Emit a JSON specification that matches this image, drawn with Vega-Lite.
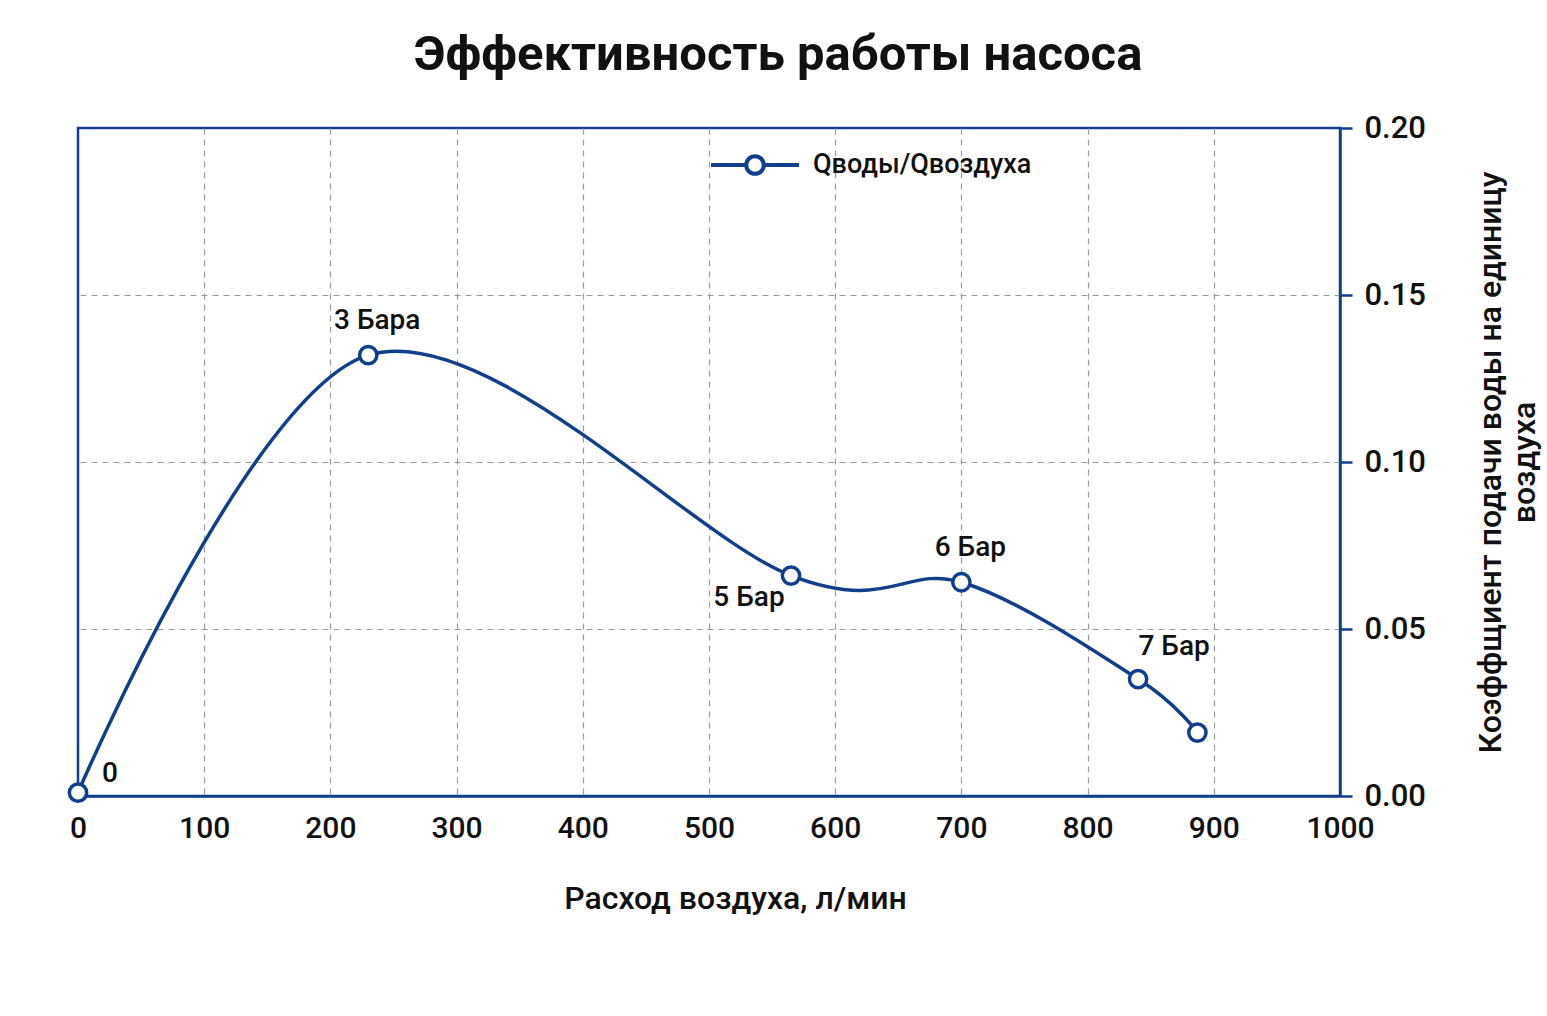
{
  "$schema": "https://vega.github.io/schema/vega-lite/v6.json",
  "width": 1262,
  "height": 668,
  "autosize": {"type": "none"},
  "padding": {"left": 78, "top": 128, "right": 207, "bottom": 220},
  "background": "white",
  "title": {
    "text": "Эффективность работы насоса",
    "font": "Roboto",
    "fontSize": 49,
    "fontWeight": "bold",
    "color": "#111111",
    "anchor": "middle",
    "dx": 69,
    "offset": 32
  },
  "data": {
    "values": [
      {"air": 0, "ratio": 0.001, "label": "0", "series": "Qводы/Qвоздуха"},
      {"air": 230, "ratio": 0.132, "label": "3 Бара", "series": "Qводы/Qвоздуха"},
      {"air": 565, "ratio": 0.066, "label": "5 Бар", "series": "Qводы/Qвоздуха"},
      {"air": 700, "ratio": 0.064, "label": "6 Бар", "series": "Qводы/Qвоздуха"},
      {"air": 840, "ratio": 0.035, "label": "7 Бар", "series": "Qводы/Qвоздуха"},
      {"air": 887, "ratio": 0.019, "label": "", "series": "Qводы/Qвоздуха"}
    ]
  },
  "encoding": {
    "x": {
      "field": "air", "type": "quantitative",
      "scale": {"domain": [0, 1000], "nice": false, "zero": true},
      "axis": {
        "title": "Расход воздуха, л/мин",
        "titleX": 657,
        "values": [0, 100, 200, 300, 400, 500, 600, 700, 800, 900, 1000],
        "format": "d",
        "grid": true, "gridDash": [6, 5], "gridColor": "#9a9a9a", "gridWidth": 1.2,
        "gridOpacity": {"condition": {"test": "datum.value === 0 || datum.value === 1000", "value": 0}, "value": 1},
        "domainColor": "#123f8c", "domainWidth": 2.5,
        "ticks": false,
        "labelFlush": false,
        "labelFont": "Roboto", "labelFontSize": 30, "labelFontWeight": 500, "labelColor": "#111111",
        "labelPadding": 17,
        "titleFont": "Roboto", "titleFontSize": 32, "titleFontWeight": 500, "titleColor": "#111111",
        "titlePadding": 40
      }
    },
    "y": {
      "field": "ratio", "type": "quantitative",
      "scale": {"domain": [0, 0.2], "nice": false},
      "axis": {
        "orient": "right",
        "title": ["Коэффщиент подачи воды на единицу", "воздуха"],
        "values": [0, 0.05, 0.1, 0.15, 0.2],
        "format": ".2f",
        "grid": true, "gridDash": [6, 5], "gridColor": "#9a9a9a", "gridWidth": 1.2,
        "gridOpacity": {"condition": {"test": "datum.value === 0 || datum.value === 0.2", "value": 0}, "value": 1},
        "domainColor": "#123f8c", "domainWidth": 2.5,
        "ticks": true, "tickColor": "#123f8c", "tickWidth": 2.5, "tickSize": 12,
        "labelFont": "Roboto", "labelFontSize": 31, "labelFontWeight": 500, "labelColor": "#111111",
        "labelPadding": 12,
        "titleFont": "Roboto", "titleFontSize": 32, "titleFontWeight": 500, "titleColor": "#111111",
        "titleAngle": 270, "titleAlign": "center", "titleBaseline": "bottom",
        "titlePadding": 48, "titleLineHeight": 34
      }
    }
  },
  "layer": [
    {
      "mark": {"type": "line", "interpolate": "cardinal", "tension": 0, "strokeWidth": 3.5, "color": "#123f8c"},
      "encoding": {
        "color": {
          "field": "series", "type": "nominal",
          "scale": {"range": ["#123f8c"]},
          "legend": {
            "title": null,
            "orient": "none",
            "legendX": 631,
            "legendY": -9,
            "padding": 0,
            "symbolType": "M-1,0L-0.2,0M0.2,0L1,0M-0.2,0A0.2,0.2,0,1,1,0.2,0A0.2,0.2,0,1,1,-0.2,0Z",
            "symbolSize": 7744,
            "symbolStrokeWidth": 4,
            "symbolFillColor": "white",
            "symbolStrokeColor": "#123f8c",
            "labelFont": "Roboto", "labelFontSize": 27, "labelFontWeight": 500, "labelColor": "#111111",
            "labelOffset": 12,
            "labelLimit": 500
          }
        }
      }
    },
    {
      "mark": {"type": "point", "filled": true, "fill": "white", "stroke": "#123f8c", "strokeWidth": 3.5, "size": 300, "opacity": 1}
    },
    {
      "transform": [{"filter": {"field": "label", "oneOf": ["3 Бара", "6 Бар"]}}],
      "mark": {"type": "text", "font": "Roboto", "fontSize": 28, "fontWeight": 500, "color": "#111111", "align": "center", "baseline": "middle", "dx": 9, "dy": -34},
      "encoding": {"text": {"field": "label"}}
    },
    {
      "transform": [{"filter": {"field": "label", "equal": "5 Бар"}}],
      "mark": {"type": "text", "font": "Roboto", "fontSize": 28, "fontWeight": 500, "color": "#111111", "align": "center", "baseline": "middle", "dx": -42, "dy": 22},
      "encoding": {"text": {"field": "label"}}
    },
    {
      "transform": [{"filter": {"field": "label", "equal": "7 Бар"}}],
      "mark": {"type": "text", "font": "Roboto", "fontSize": 28, "fontWeight": 500, "color": "#111111", "align": "center", "baseline": "middle", "dx": 36, "dy": -32},
      "encoding": {"text": {"field": "label"}}
    },
    {
      "transform": [{"filter": {"field": "label", "equal": "0"}}],
      "mark": {"type": "text", "font": "Roboto", "fontSize": 28, "fontWeight": 500, "color": "#111111", "align": "center", "baseline": "middle", "dx": 32, "dy": -19},
      "encoding": {"text": {"field": "label"}}
    }
  ],
  "config": {
    "view": {"stroke": "#123f8c", "strokeWidth": 2.5}
  }
}
